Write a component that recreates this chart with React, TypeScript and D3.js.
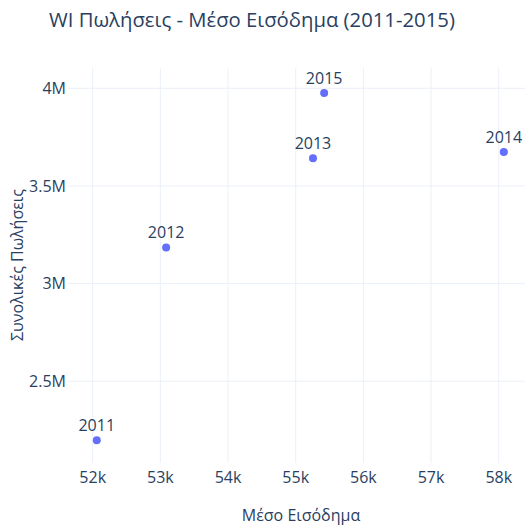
import React from "react";
import * as d3 from "d3";

const years = ["2011", "2012", "2013", "2014", "2015"];
const income = [52060, 53085, 55255, 58075, 55420];
const sales = [2198000, 3185000, 3642000, 3674000, 3976000];
const xTicks = [52000, 53000, 54000, 55000, 56000, 57000, 58000];
const yTicks = [2500000, 3000000, 3500000, 4000000];

const W = 525, H = 527;
const plot = { left: 68, right: 525, top: 68, bottom: 463 };
const FONT = "'Open Sans', 'Noto Sans', sans-serif";
const TEXT = "#2a3f5f";

export default function App() {
  const x = d3.scaleLinear().domain([51635, 58388]).range([plot.left, plot.right]);
  const y = d3.scaleLinear().domain([2081400, 4104000]).range([plot.bottom, plot.top]);
  const fmtY = (v: number) => d3.format("~g")(v / 1e6) + "M";
  const fmtX = (v: number) => d3.format("~g")(v / 1e3) + "k";
  return (
    <svg width={W} height={H} style={{ position: "absolute", left: 0, top: 0, background: "#fff" }} fontFamily={FONT}>
      <rect x={0} y={0} width={W} height={H} fill="#fff" />
      {xTicks.map((t) => (
        <line key={"gx" + t} x1={x(t)} x2={x(t)} y1={plot.top} y2={plot.bottom} stroke="#ebf0f8" strokeWidth={1} />
      ))}
      {yTicks.map((t) => (
        <line key={"gy" + t} x1={plot.left} x2={plot.right} y1={y(t)} y2={y(t)} stroke="#ebf0f8" strokeWidth={1} />
      ))}
      {xTicks.map((t) => (
        <text key={"tx" + t} x={x(t)} y={483} textAnchor="middle" fontSize={16} fill={TEXT}>{fmtX(t)}</text>
      ))}
      {yTicks.map((t) => (
        <text key={"ty" + t} x={66} y={y(t)} dy="0.36em" textAnchor="end" fontSize={16} fill={TEXT}>{fmtY(t)}</text>
      ))}
      {years.map((yr, i) => (
        <g key={yr}>
          <circle cx={x(income[i])} cy={y(sales[i])} r={4} fill="#636efa" />
          <text x={x(income[i])} y={y(sales[i]) - 9} textAnchor="middle" fontSize={16} fill={TEXT}>{yr}</text>
        </g>
      ))}
      <text x={49} y={27} fontSize={20.3} fill={TEXT}>WI Πωλήσεις - Μέσο Εισόδημα (2011-2015)</text>
      <text x={301} y={521} textAnchor="middle" fontSize={16} fill={TEXT}>Μέσο Εισόδημα</text>
      <text transform="translate(23,265) rotate(-90)" textAnchor="middle" fontSize={16} fill={TEXT}>Συνολικές Πωλήσεις</text>
    </svg>
  );
}
